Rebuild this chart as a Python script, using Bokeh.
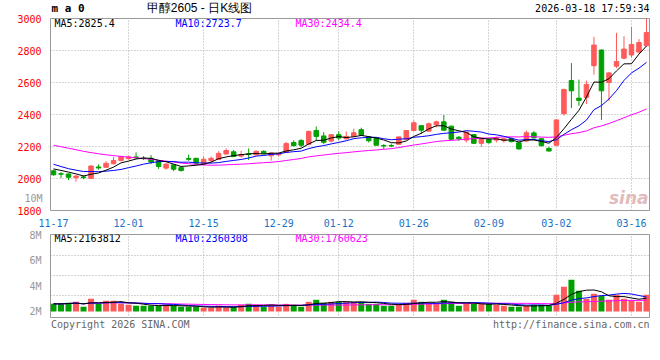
import numpy as np
import pandas as pd
from bokeh.plotting import figure
from bokeh.layouts import column
from bokeh.models import (ColumnDataSource, Range1d, FixedTicker, Label,
                          PrintfTickFormatter, LinearAxis)
from bokeh.embed import file_html
from bokeh.resources import INLINE

# ---------------- data ----------------
TICK_INDEX = [0, 10, 20, 30, 38, 48, 58, 67, 77]
TICK_LABELS = ["11-17", "12-01", "12-15", "12-29", "01-12",
               "01-26", "02-09", "03-02", "03-16"]

OPEN = [2048, 2030, 2028, 2005, 2010, 2000, 2072, 2070, 2092, 2112,
        2124, 2135, 2128, 2126, 2110, 2065, 2085, 2068, 2125, 2126,
        2090, 2112, 2120, 2153, 2167, 2140, 2155, 2148, 2170, 2142,
        2148, 2163, 2225, 2238, 2214, 2300, 2266, 2234, 2274, 2248,
        2263, 2305, 2260, 2253, 2206, 2206, 2214, 2245, 2300, 2330,
        2296, 2336, 2354, 2327, 2258, 2240, 2274, 2220, 2243, 2240,
        2236, 2250, 2223, 2234, 2285, 2249, 2188, 2208, 2405, 2612,
        2502, 2507, 2705, 2803, 2600, 2702, 2752, 2772, 2790, 2830]
HIGH = [2055, 2040, 2032, 2022, 2020, 2083, 2088, 2108, 2135, 2141,
        2143, 2163, 2140, 2146, 2112, 2094, 2088, 2075, 2149, 2130,
        2137, 2137, 2171, 2188, 2177, 2173, 2188, 2175, 2176, 2163,
        2162, 2229, 2239, 2245, 2300, 2325, 2290, 2276, 2296, 2294,
        2311, 2317, 2266, 2256, 2215, 2218, 2262, 2302, 2362, 2332,
        2350, 2362, 2397, 2330, 2265, 2292, 2278, 2256, 2248, 2262,
        2255, 2256, 2226, 2300, 2296, 2252, 2198, 2370, 2560, 2721,
        2618, 2612, 2885, 2806, 2665, 2910, 2889, 2947, 2871, 2998]
LOW = [2018, 2003, 1990, 1980, 1996, 1997, 2055, 2066, 2088, 2108,
       2118, 2122, 2115, 2090, 2060, 2055, 2046, 2043, 2110, 2090,
       2085, 2100, 2118, 2150, 2135, 2130, 2116, 2144, 2155, 2112,
       2138, 2160, 2200, 2195, 2210, 2240, 2215, 2225, 2240, 2245,
       2260, 2268, 2225, 2206, 2185, 2196, 2212, 2243, 2298, 2280,
       2294, 2320, 2300, 2243, 2236, 2225, 2216, 2198, 2218, 2225,
       2225, 2226, 2180, 2230, 2250, 2200, 2168, 2204, 2393, 2440,
       2454, 2465, 2649, 2366, 2485, 2690, 2745, 2756, 2780, 2825]
CLOSE = [2023, 2027, 2008, 2015, 2005, 2078, 2066, 2095, 2112, 2137,
         2135, 2130, 2124, 2103, 2075, 2090, 2058, 2050, 2120, 2096,
         2120, 2126, 2157, 2175, 2137, 2150, 2150, 2170, 2158, 2160,
         2155, 2218, 2205, 2208, 2294, 2263, 2226, 2274, 2253, 2263,
         2286, 2271, 2236, 2208, 2203, 2203, 2260, 2300, 2348, 2302,
         2342, 2354, 2302, 2245, 2248, 2290, 2220, 2252, 2224, 2253,
         2248, 2230, 2185, 2286, 2254, 2205, 2172, 2366, 2557, 2548,
         2488, 2588, 2834, 2548, 2660, 2731, 2809, 2838, 2850, 2912]
# closes of the 29 sessions before 11-17 (estimated from where the MA lines start)
PRE_CLOSE = [2300, 2285, 2310, 2295, 2320, 2290, 2275, 2280, 2270, 2275,
             2265, 2250, 2260, 2240, 2255, 2235, 2240, 2230, 2245, 2220,
             2170, 2140, 2110, 2090, 2080, 2075, 2060, 2070, 2072]
VOLUME_M = [2.60, 2.60, 2.68, 2.76, 2.37, 3.00, 2.60, 2.84, 2.84, 2.60,
            2.53, 2.45, 2.45, 2.45, 2.45, 2.53, 2.45, 2.37, 2.37, 2.37,
            2.29, 2.29, 2.45, 2.29, 2.37, 2.53, 2.60, 2.53, 2.37, 2.53,
            2.37, 2.60, 2.53, 2.37, 2.76, 2.92, 2.68, 2.76, 2.76, 2.76,
            2.76, 2.76, 2.60, 2.60, 2.45, 2.45, 2.60, 2.68, 2.92, 2.76,
            2.68, 2.60, 2.92, 2.76, 2.45, 2.60, 2.60, 2.60, 2.60, 2.53,
            2.45, 2.37, 2.37, 2.45, 2.53, 2.53, 2.45, 3.31, 3.94, 4.49,
            3.63, 3.00, 3.39, 3.23, 2.92, 3.31, 3.00, 2.84, 2.76, 3.31]
PRICE_TICKS = [1800, 2000, 2200, 2400, 2600, 2800, 3000]
VOL_TICKS = [2, 4, 6, 8]

# ---------------- styles / layout constants ----------------
UP, DOWN = "#ff5a5a", "#00a000"
MONO = "DejaVu Sans Mono"
GRID_COLOR = "#aaaaaa"
VOL_BASE = 2.0
VOL_GRID = [3.26, 4.83, 6.4]
W = 652

n = len(CLOSE)
idx = np.arange(n)
X0, X1 = -0.4, n - 0.6
PX_PER_X = 599 / (X1 - X0)


def ix(px):          # page x -> index units (frame 50..649)
    return X0 + (px - 50) / PX_PER_X


def py(px):          # page y -> price units (frame 18..213)
    return 3000 - (px - 18) * 1200 / 195


def vy(px):          # page y -> volume units (frame 234..318)
    return 8.05 - (px - 234) * 6.6 / 84


up = np.array(CLOSE) >= np.array(OPEN)
colors = [UP if u else DOWN for u in up]
src = ColumnDataSource(dict(
    x=idx, open=OPEN, high=HIGH, low=LOW, close=CLOSE,
    top=np.maximum(OPEN, CLOSE), bottom=np.minimum(OPEN, CLOSE),
    color=colors, vol=VOLUME_M))

closes_all = pd.Series(PRE_CLOSE + CLOSE, dtype=float)
k = len(PRE_CLOSE)
ma5 = closes_all.rolling(5).mean().iloc[k:].to_numpy()
ma10 = closes_all.rolling(10).mean().iloc[k:].to_numpy()
ma30 = closes_all.rolling(30).mean().iloc[k:].to_numpy()

vols = pd.Series(VOLUME_M, dtype=float)
vma5 = vols.rolling(5, min_periods=1).mean().to_numpy()
vma10 = vols.rolling(10, min_periods=1).mean().to_numpy()
vma30 = vols.rolling(30, min_periods=1).mean().to_numpy()

xr = Range1d(X0, X1)


def lab(fig, x, y, text, color="#000000", size="10px", align="left",
        font=MONO, style="normal"):
    fig.add_layout(Label(x=x, y=y, text=text, text_color=color,
                         text_font=font, text_font_size=size,
                         text_align=align, text_baseline="middle",
                         text_font_style=style))


def strip(height):
    """A bare figure sharing the x scale; y counts pixels downward."""
    f = figure(width=W, height=height, x_range=xr,
               y_range=Range1d(height, 0), output_backend="svg",
               toolbar_location=None, title=None,
               x_axis_location=None, y_axis_location=None,
               min_border_left=50, min_border_right=3, min_border_top=0,
               min_border_bottom=0)
    f.outline_line_color = None
    f.xgrid.visible = False
    f.ygrid.visible = False
    return f


# ---------------- header strip (page y 0..14) ----------------
head = strip(14)
lab(head, ix(51), 7.5, "m a 0", size="11px", style="bold")
lab(head, ix(199), 7.5, "甲醇2605 - 日K线图", size="12px", align="center",
    font="Liberation Sans")
lab(head, ix(649), 8, "2026-03-18 17:59:34", align="right")

# ---------------- price panel (page y 14..229, frame 18..213) ----------------
p1 = figure(width=W, height=215, x_range=xr, y_range=Range1d(1800, 3000),
            output_backend="svg", toolbar_location=None, title=None,
            min_border_left=50, min_border_right=3, min_border_top=4,
            min_border_bottom=16)
p1.outline_line_color = "#999999"
p1.outline_line_width = 1

p1.xgrid.ticker = FixedTicker(ticks=TICK_INDEX[1:])
p1.ygrid.ticker = FixedTicker(ticks=PRICE_TICKS)
for g in (p1.xgrid, p1.ygrid):
    g.grid_line_color = GRID_COLOR
    g.grid_line_dash = "1 2"
    g.grid_line_width = 1

p1.yaxis.ticker = FixedTicker(ticks=PRICE_TICKS)
p1.yaxis.major_label_text_color = "#ff0000"
p1.xaxis.ticker = FixedTicker(ticks=TICK_INDEX)
p1.xaxis.major_label_overrides = {t: l for t, l in zip(TICK_INDEX, TICK_LABELS)}
p1.xaxis.major_label_text_color = "#1a73c4"

# the stray grey "10M" label that the source draws beside the price scale
extra = LinearAxis(ticker=FixedTicker(ticks=[py(200.7)]),
                   major_label_overrides={py(200.7): "10M"})
extra.major_label_text_color = "#999999"
extra.major_label_standoff = -34
p1.add_layout(extra, "left")

for ax in (p1.xaxis[0], p1.yaxis[0], extra):
    ax.axis_line_color = None
    ax.major_tick_line_color = None
    ax.minor_tick_line_color = None
    ax.major_label_text_font = MONO
    ax.major_label_text_font_size = "10px"
p1.yaxis[0].major_label_standoff = 3
p1.xaxis[0].major_label_standoff = 2

p1.segment(x0="x", y0="low", x1="x", y1="high", color="color",
           line_width=1, source=src)
p1.vbar(x="x", width=0.6, top="top", bottom="bottom", fill_color="color",
        line_color="color", line_width=1, source=src)
p1.line(idx, ma30, color="#ff00ff", line_width=1)
p1.line(idx, ma10, color="#0000ff", line_width=1)
p1.line(idx, ma5, color="#000000", line_width=1)

lab(p1, ix(54), py(23.5), "MA5:2825.4", color="#000000")
lab(p1, ix(175), py(23.5), "MA10:2723.7", color="#0000ff")
lab(p1, ix(295), py(23.5), "MA30:2434.4", color="#ff00ff")
lab(p1, ix(648), py(200), "sina", color="#e2bcbc", size="17px", align="right",
    font="DejaVu Sans", style="bold italic")

# ---------------- volume panel (page y 229..318, frame 234..318) ----------------
p2 = figure(width=W, height=89, x_range=xr, y_range=Range1d(1.45, 8.05),
            output_backend="svg", toolbar_location=None, title=None,
            x_axis_location=None,
            min_border_left=50, min_border_right=3, min_border_top=5,
            min_border_bottom=0)
p2.outline_line_color = "#999999"
p2.outline_line_width = 1
p2.xgrid.ticker = FixedTicker(ticks=TICK_INDEX[1:])
p2.ygrid.ticker = FixedTicker(ticks=VOL_GRID)
for g in (p2.xgrid, p2.ygrid):
    g.grid_line_color = GRID_COLOR
    g.grid_line_dash = "1 2"
    g.grid_line_width = 1
p2.yaxis.ticker = FixedTicker(ticks=VOL_TICKS)
p2.yaxis.formatter = PrintfTickFormatter(format="%dM")
p2.yaxis.major_label_text_color = "#999999"
p2.yaxis.axis_line_color = None
p2.yaxis.major_tick_line_color = None
p2.yaxis.minor_tick_line_color = None
p2.yaxis.major_label_text_font = MONO
p2.yaxis.major_label_text_font_size = "10px"
p2.yaxis.major_label_standoff = 3

p2.vbar(x="x", width=0.8, top="vol", bottom=VOL_BASE, fill_color="color",
        line_color=None, source=src)
p2.line(idx, vma30, color="#ff00ff", line_width=1)
p2.line(idx, vma10, color="#0000ff", line_width=1)
p2.line(idx, vma5, color="#000000", line_width=1)

lab(p2, ix(54), vy(238), "MA5:2163812", color="#000000")
lab(p2, ix(175), vy(238), "MA10:2360308", color="#0000ff")
lab(p2, ix(295), vy(238), "MA30:1760623", color="#ff00ff")

# ---------------- footer strip (page y 318..334) ----------------
foot = strip(16)
lab(foot, ix(50.5), 5.5, "Copyright 2026 SINA.COM", color="#666666")
lab(foot, ix(649), 5.5, "http://finance.sina.com.cn", color="#666666",
    align="right")

layout = column(head, p1, p2, foot, spacing=0)
open("out.html", "w").write(file_html(layout, INLINE))
